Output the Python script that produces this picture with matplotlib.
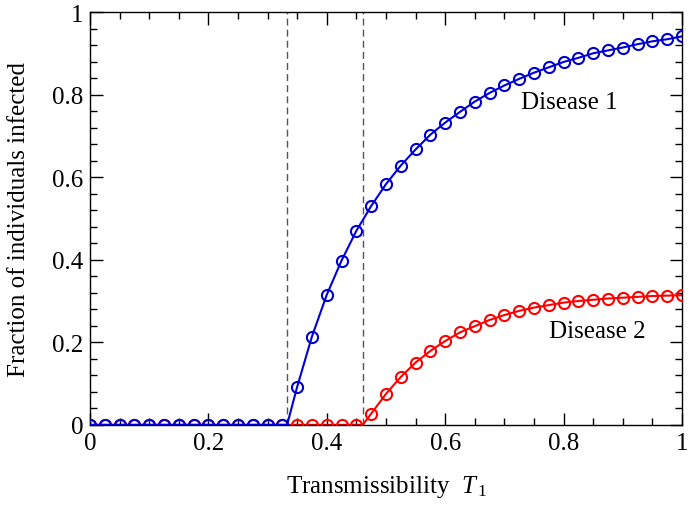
import numpy as np
import matplotlib
matplotlib.use("Agg")
import matplotlib.pyplot as plt
from matplotlib.ticker import MultipleLocator

plt.rcParams['font.family'] = ['Liberation Serif', 'DejaVu Serif']
plt.rcParams['mathtext.fontset'] = 'custom'
plt.rcParams['mathtext.it'] = 'Liberation Serif:italic'
plt.rcParams['mathtext.rm'] = 'Liberation Serif'

# thresholds
Tc1 = 0.333
Tc2 = 0.461

T = [round(0.025 * i, 3) for i in range(41)]
disease1 = [0.0] * 14 + [0.092, 0.214, 0.315, 0.398, 0.470, 0.530, 0.583, 0.628,
                         0.667, 0.703, 0.732, 0.758, 0.783, 0.804, 0.822, 0.838,
                         0.853, 0.866, 0.879, 0.889, 0.900, 0.907, 0.914, 0.922,
                         0.929, 0.934, 0.941]
disease2 = [0.0] * 19 + [0.027, 0.075, 0.116, 0.151, 0.179, 0.203, 0.224, 0.239,
                         0.254, 0.266, 0.276, 0.284, 0.290, 0.296, 0.300, 0.303,
                         0.306, 0.308, 0.310, 0.312, 0.313, 0.314]

# line data (includes threshold points)
line1_x = T[:14] + [Tc1] + T[14:]
line1_y = disease1[:14] + [0.0] + disease1[14:]
line2_x = T[:19] + [Tc2] + T[19:]
line2_y = disease2[:19] + [0.0] + disease2[19:]

fig = plt.figure(figsize=(6.92, 5.10), dpi=100)
ax = fig.add_axes([0.130, 0.165, 0.8555, 0.8095])

for xc in (Tc1, Tc2):
    ax.plot([xc, xc], [0, 1], color='#555555', lw=1.0, ls=(0, (5, 3)), zorder=1)

ax.plot(line2_x, line2_y, color='#ff0000', lw=1.5, zorder=2)
ax.plot(T, disease2, ls='none', marker='o', ms=8, mfc='none', mec='#ff0000', mew=1.5, zorder=3)
ax.plot(line1_x, line1_y, color='#0000dd', lw=1.5, zorder=4)
ax.plot(T, disease1, ls='none', marker='o', ms=8, mfc='none', mec='#0000cc', mew=1.5, zorder=5)

ax.set_xlim(0, 1)
ax.set_ylim(0, 1)
ax.xaxis.set_major_locator(MultipleLocator(0.2))
ax.xaxis.set_minor_locator(MultipleLocator(0.05))
ax.yaxis.set_major_locator(MultipleLocator(0.2))
ax.yaxis.set_minor_locator(MultipleLocator(0.04))
ax.xaxis.set_major_formatter(plt.FuncFormatter(lambda v, p: ('%g' % round(v, 2))))
ax.yaxis.set_major_formatter(plt.FuncFormatter(lambda v, p: ('%g' % round(v, 2))))
ax.tick_params(which='both', direction='in', top=True, right=True, labelsize=18, width=1.0)
ax.tick_params(which='major', length=9, pad=5)
ax.tick_params(which='minor', length=5)
for s in ax.spines.values():
    s.set_linewidth(1.0)

ax.set_xlabel(r'Transmissibility  $T_{\,1}$', fontsize=18, labelpad=14)
ax.set_ylabel('Fraction of individuals infected', fontsize=18, labelpad=16)

ax.text(0.81, 0.782, 'Disease 1', fontsize=18, ha='center', va='center')
ax.text(0.857, 0.228, 'Disease 2', fontsize=18, ha='center', va='center')

fig.savefig('out.png', dpi=100)
